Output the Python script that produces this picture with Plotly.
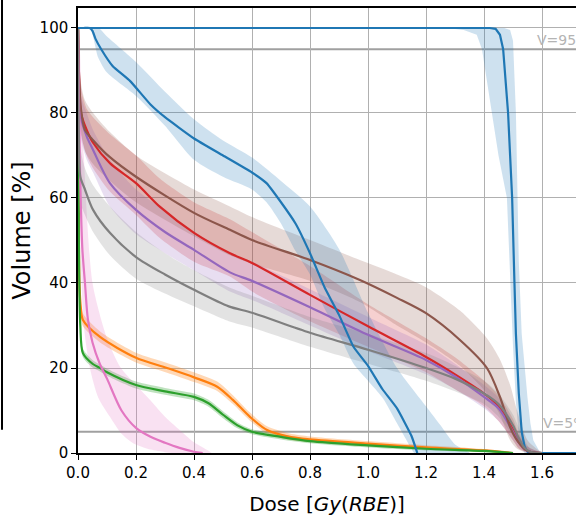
import plotly.graph_objects as go

# ---------------- data ----------------
# Blue (flat, target-like)
blue1_dose = [0, 1.2, 1.3, 1.38, 1.42, 1.44, 1.455, 1.466, 1.475, 1.483, 1.49, 1.497, 1.505, 1.51, 1.52, 1.53, 1.54, 1.55, 1.56, 1.6, 1.75]
blue1_vol = [100, 100, 100, 100, 100, 99.8, 98.4, 95, 88, 80, 70, 60, 40, 28, 14, 5, 1.5, 0.3, 0, 0, 0]
blue1_lo_dose = [0, 1.27, 1.33, 1.375, 1.393, 1.41, 1.428, 1.45, 1.479, 1.49, 1.5, 1.51, 1.52, 1.53, 1.54]
blue1_lo_vol = [100, 100, 99.5, 98.4, 95, 88, 80, 70, 60, 40, 25, 12, 4, 1, 0]
blue1_hi_dose = [0, 1.47, 1.49, 1.5, 1.51, 1.515, 1.52, 1.53, 1.54, 1.55, 1.56, 1.57, 1.59, 1.61]
blue1_hi_vol = [100, 100, 99.5, 97, 80, 60, 45, 28, 20, 13, 7, 3, 0.5, 0]

# Blue (descending)
blue2_dose = [0, 0.02, 0.04, 0.05, 0.06, 0.08, 0.12, 0.18, 0.25, 0.3, 0.4, 0.5, 0.6, 0.65, 0.7, 0.75, 0.8, 0.85, 0.9, 0.95, 1.0, 1.05, 1.1, 1.15, 1.17]
blue2_vol = [100, 100, 100, 99.3, 97.5, 95, 91, 87.5, 82, 79, 74, 70, 66, 63.5, 59, 54, 47, 39, 32.5, 25, 20.5, 15, 10.5, 4, 0]
blue2_lo_dose = [0, 0.04, 0.07, 0.1, 0.2, 0.3, 0.4, 0.5, 0.6, 0.65, 0.7, 0.75, 0.8, 0.85, 0.9, 0.95, 1.0, 1.05, 1.1, 1.15, 1.16]
blue2_lo_vol = [100, 100, 93, 89.5, 84, 77, 69, 65, 62, 59, 54, 47.5, 42, 34, 28, 21, 17, 13, 7, 1, 0]
blue2_hi_dose = [0, 0.07, 0.1, 0.2, 0.3, 0.4, 0.5, 0.6, 0.7, 0.8, 0.9, 1.0, 1.1, 1.2, 1.25, 1.3, 1.35]
blue2_hi_vol = [100, 100, 98, 92, 85, 78.5, 73.5, 69.5, 64, 58, 48, 33, 20, 11, 6.5, 2, 0]

# Orange
orange_dose = [0, 0.002, 0.005, 0.01, 0.017, 0.076, 0.2, 0.307, 0.4, 0.48, 0.534, 0.593, 0.652, 0.73, 0.8, 1.0, 1.2, 1.4, 1.5]
orange_vol = [100, 60, 40, 34, 31.3, 27.3, 22.4, 20, 17.8, 15.6, 12.5, 8.5, 5.4, 3.8, 3.2, 2.2, 1.3, 0.6, 0]
orange_lo = [100, 56, 37, 32, 29.8, 26.0, 21.3, 18.9, 16.7, 14.6, 11.5, 7.6, 4.6, 3.1, 2.6, 1.7, 0.9, 0.3, 0]
orange_hi = [100, 64, 43, 36, 32.8, 28.6, 23.6, 21.2, 19.0, 16.8, 13.6, 9.5, 6.3, 4.6, 3.9, 2.8, 1.8, 0.9, 0]

# Green
green_dose = [0, 0.003, 0.008, 0.017, 0.05, 0.076, 0.1, 0.2, 0.3, 0.4, 0.45, 0.5, 0.55, 0.6, 0.7, 0.8, 1.0, 1.2, 1.4, 1.5]
green_vol = [100, 50, 30, 23.5, 21, 20, 19, 16, 14.5, 13.2, 11.7, 9, 6.5, 5, 3.8, 2.8, 1.8, 1, 0.5, 0]
green_lo = [100, 47, 28, 22.5, 20.1, 19.2, 18.2, 15.2, 13.7, 12.4, 10.9, 8.2, 5.8, 4.4, 3.2, 2.3, 1.3, 0.6, 0.2, 0]
green_hi = [100, 53, 32, 24.5, 21.9, 20.8, 19.8, 16.8, 15.3, 14.0, 12.5, 9.8, 7.2, 5.6, 4.4, 3.3, 2.3, 1.4, 0.8, 0]

# Red
red_dose = [0, 0.004, 0.01, 0.03, 0.052, 0.11, 0.2, 0.283, 0.4, 0.524, 0.6, 0.8, 1.0, 1.2, 1.3, 1.4, 1.45, 1.5, 1.52, 1.55, 1.6]
red_vol = [100, 88, 80, 76, 73, 68.2, 63.5, 57.9, 51.8, 47, 44.7, 37.2, 29.8, 22.6, 18.5, 14, 11, 5.5, 2.5, 0.5, 0]
red_lo = [100, 82, 75, 70, 67, 61.5, 56, 50.5, 45, 41.5, 38, 31, 25, 19, 15, 11, 7.5, 3, 1, 0.2, 0]
red_hi = [100, 93, 86, 81, 79, 75, 70, 64.5, 59, 55, 52, 44, 35, 27, 22.5, 17, 13.5, 8, 4.5, 1.5, 0]

# Purple
purple_dose = [0, 0.004, 0.01, 0.03, 0.052, 0.11, 0.2, 0.3, 0.4, 0.524, 0.6, 0.8, 1.0, 1.2, 1.3, 1.4, 1.45, 1.5, 1.52, 1.55, 1.6]
purple_vol = [100, 85, 79, 74.5, 71.3, 63.5, 57.2, 52, 47.8, 42.5, 40.5, 34.3, 27.8, 21.9, 18, 13.2, 10.5, 5, 2.5, 0.5, 0]
purple_lo = [100, 80, 74, 69, 66, 58, 51.5, 47, 43, 38, 36, 30, 24, 18.5, 15, 10.5, 7.5, 3, 1.2, 0.2, 0]
purple_hi = [100, 90, 84, 80, 76, 69, 62, 57, 52, 47, 45, 38.5, 32, 25.5, 21, 16, 13, 7, 4, 1.5, 0]

# Brown
brown_dose = [0, 0.004, 0.01, 0.024, 0.052, 0.11, 0.2, 0.4, 0.524, 0.6, 0.8, 0.972, 1.1, 1.2, 1.317, 1.41, 1.455, 1.49, 1.514, 1.55, 1.6]
brown_vol = [100, 88, 81, 76, 73.6, 69.6, 65, 56.5, 52.5, 50.1, 45.4, 40.7, 36.5, 32.9, 26.6, 20, 13.2, 6.1, 3, 0.5, 0]
brown_lo = [100, 82, 76, 71, 68, 64, 59, 51, 46.5, 44.5, 40.5, 35.5, 30, 26, 20.5, 14, 9, 3, 1, 0, 0]
brown_hi = [100, 93, 87, 83, 80, 75.5, 70, 62, 58, 55.5, 50.1, 45.4, 42, 39, 33.5, 27, 22, 16, 10, 3, 0]

# Pink
pink_dose = [0, 0.003, 0.006, 0.01, 0.015, 0.024, 0.034, 0.05, 0.075, 0.1, 0.15, 0.2, 0.25, 0.3, 0.35, 0.4, 0.43]
pink_vol = [100, 85, 70, 58, 48, 40, 31.5, 26, 21, 17.5, 10, 5.9, 3.8, 2.4, 1.2, 0.3, 0]
pink_lo_dose = [0, 0.005, 0.01, 0.02, 0.041, 0.07, 0.11, 0.15, 0.19, 0.25, 0.3, 0.33]
pink_lo_vol = [100, 70, 45, 30, 20, 13, 8.5, 4.5, 2.3, 0.8, 0.2, 0]
pink_hi_dose = [0, 0.005, 0.02, 0.05, 0.1, 0.145, 0.2, 0.248, 0.3, 0.362, 0.4, 0.45, 0.46]
pink_hi_vol = [100, 97, 70, 40, 27, 20.3, 16, 12.5, 8.5, 4.7, 2.5, 0.5, 0]

# Gray
gray_dose = [0, 0.003, 0.008, 0.024, 0.052, 0.11, 0.2, 0.3, 0.4, 0.52, 0.6, 0.8, 1.0, 1.2, 1.3, 1.4, 1.45, 1.5, 1.52, 1.54, 1.56, 1.6]
gray_vol = [100, 75, 65, 62, 57.2, 51.8, 46.1, 42, 38.4, 34.5, 33, 28.3, 24.3, 20, 17.5, 14, 11.5, 6.5, 3.5, 1.2, 0.3, 0]
gray_lo = [100, 68, 59, 56, 52, 46.5, 41, 37.5, 34.5, 31, 29.5, 25, 21, 17, 14.5, 11.5, 8.5, 4, 2, 0.5, 0, 0]
gray_hi = [100, 85, 72, 67, 63, 58, 52, 47, 43, 39, 37, 32, 28, 23.5, 20.5, 17, 14, 9, 6, 3, 1, 0]

x_ticks = [0.0, 0.2, 0.4, 0.6, 0.8, 1.0, 1.2, 1.4, 1.6]
y_ticks = [0, 20, 40, 60, 80, 100]
ref_levels = [95, 5]
ref_labels = ["V=95%", "V=5%"]

# ---------------- figure ----------------
COL = {
    "blue": "#1f77b4", "orange": "#ff7f0e", "green": "#2ca02c", "red": "#d62728",
    "purple": "#9467bd", "brown": "#8c564b", "pink": "#e377c2", "gray": "#7f7f7f",
}


def rgba(hexc, a):
    h = hexc.lstrip("#")
    r, g, b = int(h[0:2], 16), int(h[2:4], 16), int(h[4:6], 16)
    return f"rgba({r},{g},{b},{a})"


fig = go.Figure()


def band(xu, yu, xl, yl, color, a=0.22, smooth=True):
    xs = list(xu) + list(reversed(xl))
    ys = list(yu) + list(reversed(yl))
    fig.add_trace(go.Scatter(x=xs, y=ys, mode="lines", fill="toself",
                             fillcolor=rgba(color, a),
                             line=dict(width=0, shape="spline" if smooth else "linear",
                                       smoothing=0.7),
                             hoverinfo="skip", showlegend=False))


def line(x, y, color, smooth=True, sm=0.8):
    fig.add_trace(go.Scatter(x=x, y=y, mode="lines",
                             line=dict(color=color, width=2.2,
                                       shape="spline" if smooth else "linear",
                                       smoothing=sm),
                             showlegend=False))


band(blue1_hi_dose, blue1_hi_vol, blue1_lo_dose, blue1_lo_vol, COL["blue"], smooth=False)
band(orange_dose, orange_hi, orange_dose, orange_lo, COL["orange"], 0.3)
band(green_dose, green_hi, green_dose, green_lo, COL["green"], 0.3)
band(red_dose, red_hi, red_dose, red_lo, COL["red"])
band(purple_dose, purple_hi, purple_dose, purple_lo, COL["purple"])
band(brown_dose, brown_hi, brown_dose, brown_lo, COL["brown"])
band(pink_hi_dose, pink_hi_vol, pink_lo_dose, pink_lo_vol, COL["pink"])
band(gray_dose, gray_hi, gray_dose, gray_lo, COL["gray"])
band(blue2_hi_dose, blue2_hi_vol, blue2_lo_dose, blue2_lo_vol, COL["blue"])

line(blue1_dose, blue1_vol, COL["blue"], smooth=False)
line(orange_dose, orange_vol, COL["orange"])
line(green_dose, green_vol, COL["green"])
line(red_dose, red_vol, COL["red"])
line(purple_dose, purple_vol, COL["purple"])
line(brown_dose, brown_vol, COL["brown"])
line(pink_dose, pink_vol, COL["pink"])
line(gray_dose, gray_vol, COL["gray"])
line(blue2_dose, blue2_vol, COL["blue"], sm=0.4)

# reference lines V=95%, V=5%
for lvl, lab, xa in zip(ref_levels, ref_labels, [1.576, 1.597]):
    fig.add_shape(type="line", xref="paper", x0=0, x1=1, yref="y", y0=lvl, y1=lvl,
                  line=dict(color="#a0a0a0", width=2), layer="below")
    fig.add_annotation(x=xa, y=lvl, xref="x", yref="y", text=lab, showarrow=False,
                       xanchor="left", yanchor="bottom", yshift=-1,
                       font=dict(family="DejaVu Sans", size=14, color="#b4b4b4"))

# stray frame edge at far left (from neighbouring panel)
fig.add_shape(type="line", xref="paper", yref="paper", x0=-0.1526, x1=-0.1526,
              y0=0.052, y1=1.02, line=dict(color="black", width=2))

fig.update_layout(
    width=576, height=520,
    margin=dict(l=78, r=0, t=8, b=67),
    paper_bgcolor="white", plot_bgcolor="white",
    font=dict(family="DejaVu Sans", color="black"),
    showlegend=False,
)
fig.update_xaxes(
    range=[0, 1.7172], tickvals=x_ticks, ticktext=[f"{v:.1f}" for v in x_ticks],
    showgrid=True, gridcolor="#b0b0b0", gridwidth=1,
    showline=True, linecolor="black", linewidth=1.5, mirror=True,
    ticks="outside", ticklen=5, tickcolor="black", tickfont=dict(size=15),
    zeroline=False,
    title=dict(text="Dose [<i>Gy</i>(<i>RBE</i>)]", font=dict(size=20), standoff=16),
)
fig.update_yaxes(
    range=[0, 104.7], tickvals=y_ticks,
    showgrid=True, gridcolor="#b0b0b0", gridwidth=1,
    showline=True, linecolor="black", linewidth=1.5, mirror=False,
    ticks="outside", ticklen=5, tickcolor="black", tickfont=dict(size=15),
    zeroline=False,
    title=dict(text="Volume [%]", font=dict(size=24), standoff=2),
)

fig.write_html("out.html")
